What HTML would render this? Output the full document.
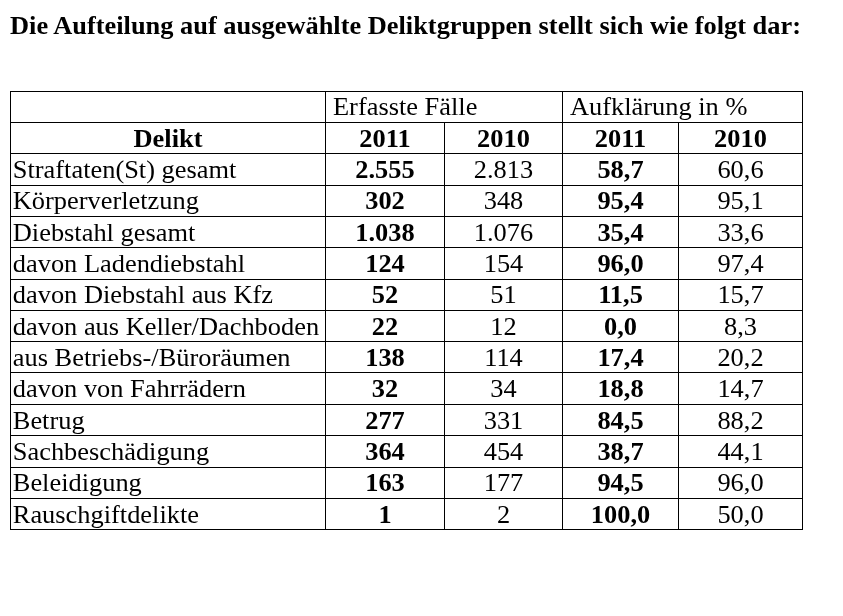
<!DOCTYPE html>
<html><head><meta charset="utf-8"><style>
html,body{margin:0;padding:0;background:#fff;}
body{width:843px;height:616px;position:relative;overflow:hidden;will-change:transform;font-family:"Liberation Serif",serif;color:#000;}
.t{position:absolute;white-space:nowrap;line-height:30px;height:30px;font-size:26.4px;transform:scaleY(0.95);transform-origin:0 23.91px;}
.c{text-align:center;}
.b{font-weight:bold;}
.h{position:absolute;height:1px;background:#000;}
.v{position:absolute;width:1px;background:#000;}
</style></head><body>
<div class="t b" style="left:10px;top:10.09px;font-size:26.4px;transform:scaleY(0.93)">Die Aufteilung auf ausgewählte Deliktgruppen stellt sich wie folgt dar:</div>
<div class="h" style="left:10px;top:91px;width:793px"></div>
<div class="h" style="left:10px;top:122px;width:793px"></div>
<div class="h" style="left:10px;top:153px;width:793px"></div>
<div class="h" style="left:10px;top:185px;width:793px"></div>
<div class="h" style="left:10px;top:216px;width:793px"></div>
<div class="h" style="left:10px;top:247px;width:793px"></div>
<div class="h" style="left:10px;top:279px;width:793px"></div>
<div class="h" style="left:10px;top:310px;width:793px"></div>
<div class="h" style="left:10px;top:341px;width:793px"></div>
<div class="h" style="left:10px;top:372px;width:793px"></div>
<div class="h" style="left:10px;top:404px;width:793px"></div>
<div class="h" style="left:10px;top:435px;width:793px"></div>
<div class="h" style="left:10px;top:467px;width:793px"></div>
<div class="h" style="left:10px;top:498px;width:793px"></div>
<div class="h" style="left:10px;top:529px;width:793px"></div>
<div class="v" style="left:10px;top:91px;height:439px"></div>
<div class="v" style="left:325px;top:91px;height:439px"></div>
<div class="v" style="left:444px;top:122px;height:408px"></div>
<div class="v" style="left:562px;top:91px;height:439px"></div>
<div class="v" style="left:678px;top:122px;height:408px"></div>
<div class="v" style="left:802px;top:91px;height:439px"></div>
<div class="t" style="left:333.00px;top:91.09px">Erfasste Fälle</div>
<div class="t" style="left:570.00px;top:91.09px">Aufklärung in %</div>
<div class="t b c" style="left:11px;width:314px;top:123.09px">Delikt</div>
<div class="t b c" style="left:326px;width:118px;top:123.09px">2011</div>
<div class="t b c" style="left:445px;width:117px;top:123.09px">2010</div>
<div class="t b c" style="left:563px;width:115px;top:123.09px">2011</div>
<div class="t b c" style="left:679px;width:123px;top:123.09px">2010</div>
<div class="t" style="left:12.80px;top:154.09px">Straftaten(St) gesamt</div>
<div class="t b c" style="left:326px;width:118px;top:154.09px">2.555</div>
<div class="t c" style="left:445px;width:117px;top:154.09px">2.813</div>
<div class="t b c" style="left:563px;width:115px;top:154.09px">58,7</div>
<div class="t c" style="left:679px;width:123px;top:154.09px">60,6</div>
<div class="t" style="left:12.80px;top:185.09px">Körperverletzung</div>
<div class="t b c" style="left:326px;width:118px;top:185.09px">302</div>
<div class="t c" style="left:445px;width:117px;top:185.09px">348</div>
<div class="t b c" style="left:563px;width:115px;top:185.09px">95,4</div>
<div class="t c" style="left:679px;width:123px;top:185.09px">95,1</div>
<div class="t" style="left:12.80px;top:217.09px">Diebstahl gesamt</div>
<div class="t b c" style="left:326px;width:118px;top:217.09px">1.038</div>
<div class="t c" style="left:445px;width:117px;top:217.09px">1.076</div>
<div class="t b c" style="left:563px;width:115px;top:217.09px">35,4</div>
<div class="t c" style="left:679px;width:123px;top:217.09px">33,6</div>
<div class="t" style="left:12.80px;top:248.09px">davon Ladendiebstahl</div>
<div class="t b c" style="left:326px;width:118px;top:248.09px">124</div>
<div class="t c" style="left:445px;width:117px;top:248.09px">154</div>
<div class="t b c" style="left:563px;width:115px;top:248.09px">96,0</div>
<div class="t c" style="left:679px;width:123px;top:248.09px">97,4</div>
<div class="t" style="left:12.80px;top:279.09px">davon Diebstahl aus Kfz</div>
<div class="t b c" style="left:326px;width:118px;top:279.09px">52</div>
<div class="t c" style="left:445px;width:117px;top:279.09px">51</div>
<div class="t b c" style="left:563px;width:115px;top:279.09px">11,5</div>
<div class="t c" style="left:679px;width:123px;top:279.09px">15,7</div>
<div class="t" style="left:12.80px;top:311.09px">davon aus Keller/Dachboden</div>
<div class="t b c" style="left:326px;width:118px;top:311.09px">22</div>
<div class="t c" style="left:445px;width:117px;top:311.09px">12</div>
<div class="t b c" style="left:563px;width:115px;top:311.09px">0,0</div>
<div class="t c" style="left:679px;width:123px;top:311.09px">8,3</div>
<div class="t" style="left:12.80px;top:342.09px">aus Betriebs-/Büroräumen</div>
<div class="t b c" style="left:326px;width:118px;top:342.09px">138</div>
<div class="t c" style="left:445px;width:117px;top:342.09px">114</div>
<div class="t b c" style="left:563px;width:115px;top:342.09px">17,4</div>
<div class="t c" style="left:679px;width:123px;top:342.09px">20,2</div>
<div class="t" style="left:12.80px;top:373.09px">davon von Fahrrädern</div>
<div class="t b c" style="left:326px;width:118px;top:373.09px">32</div>
<div class="t c" style="left:445px;width:117px;top:373.09px">34</div>
<div class="t b c" style="left:563px;width:115px;top:373.09px">18,8</div>
<div class="t c" style="left:679px;width:123px;top:373.09px">14,7</div>
<div class="t" style="left:12.80px;top:405.09px">Betrug</div>
<div class="t b c" style="left:326px;width:118px;top:405.09px">277</div>
<div class="t c" style="left:445px;width:117px;top:405.09px">331</div>
<div class="t b c" style="left:563px;width:115px;top:405.09px">84,5</div>
<div class="t c" style="left:679px;width:123px;top:405.09px">88,2</div>
<div class="t" style="left:12.80px;top:436.09px">Sachbeschädigung</div>
<div class="t b c" style="left:326px;width:118px;top:436.09px">364</div>
<div class="t c" style="left:445px;width:117px;top:436.09px">454</div>
<div class="t b c" style="left:563px;width:115px;top:436.09px">38,7</div>
<div class="t c" style="left:679px;width:123px;top:436.09px">44,1</div>
<div class="t" style="left:12.80px;top:467.09px">Beleidigung</div>
<div class="t b c" style="left:326px;width:118px;top:467.09px">163</div>
<div class="t c" style="left:445px;width:117px;top:467.09px">177</div>
<div class="t b c" style="left:563px;width:115px;top:467.09px">94,5</div>
<div class="t c" style="left:679px;width:123px;top:467.09px">96,0</div>
<div class="t" style="left:12.80px;top:499.09px">Rauschgiftdelikte</div>
<div class="t b c" style="left:326px;width:118px;top:499.09px">1</div>
<div class="t c" style="left:445px;width:117px;top:499.09px">2</div>
<div class="t b c" style="left:563px;width:115px;top:499.09px">100,0</div>
<div class="t c" style="left:679px;width:123px;top:499.09px">50,0</div>
</body></html>
